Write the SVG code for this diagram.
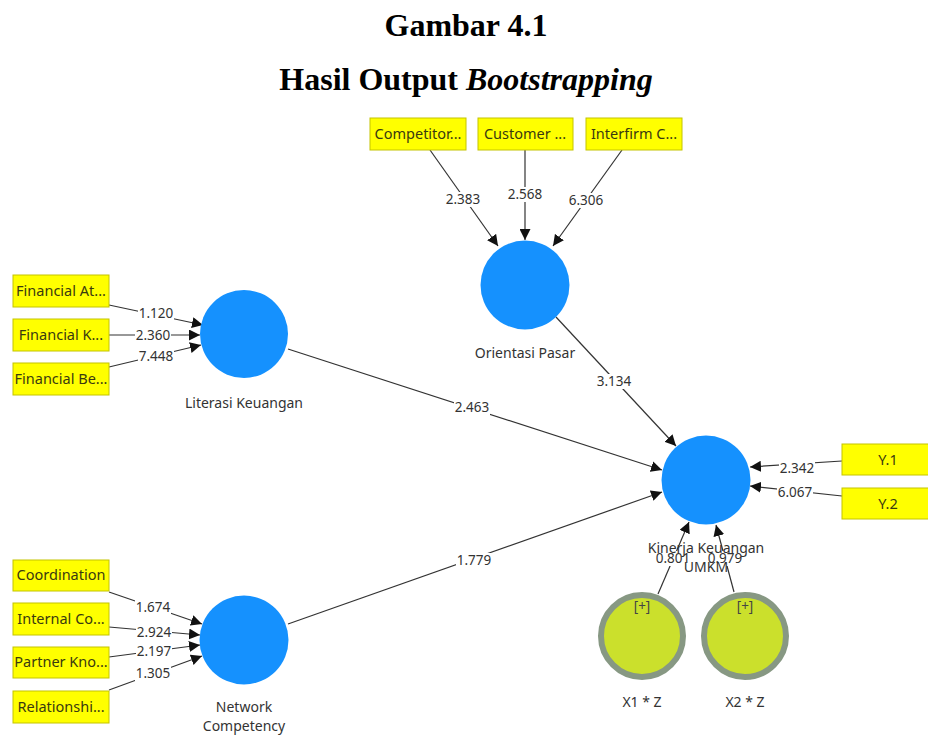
<svg xmlns="http://www.w3.org/2000/svg" width="928" height="735" viewBox="0 0 928 735">
<style>
.title{font-family:"Liberation Serif","Times New Roman",serif;font-size:32px;font-weight:bold;fill:#000;text-anchor:middle}
.box{fill:#ffff00;stroke:#c4c400;stroke-width:1}
.bt{font-family:"Noto Sans","Open Sans",sans-serif;font-size:14.5px;fill:#3a3a10;text-anchor:middle}
.lv{fill:#1591fe}
.nl{font-family:"Noto Sans","Open Sans",sans-serif;font-size:14px;fill:#333;text-anchor:middle}
.mod{fill:#cbe02c;stroke:#879883;stroke-width:6}
.plus{font-family:"Noto Sans","Open Sans",sans-serif;font-size:13.5px;fill:#444;text-anchor:middle}
.edge{stroke:#333;stroke-width:1.2;fill:none;marker-end:url(#ah)}
.bg{fill:#fff}
.el{font-family:"Noto Sans","Open Sans",sans-serif;font-size:13.5px;fill:#333;text-anchor:middle}
</style>
<defs>
<marker id="ah" viewBox="0 0 10 10" refX="10" refY="5" markerWidth="11" markerHeight="11" markerUnits="userSpaceOnUse" orient="auto">
<path d="M0,0 L10,5 L0,10 Z" fill="#111"/>
</marker>
</defs>
<rect width="928" height="735" fill="#fff"/>
<text class="title" x="466" y="36">Gambar 4.1</text>
<text class="title" x="466" y="90">Hasil Output <tspan font-style="italic">Bootstrapping</tspan></text>

<g id="connectors">
<line class="edge" x1="430" y1="150" x2="498" y2="246"/><rect class="bg" x="445" y="192" width="36" height="15"/><text class="el" x="463" y="204">2.383</text>
<line class="edge" x1="525" y1="150" x2="525" y2="240"/><rect class="bg" x="507" y="187" width="36" height="15"/><text class="el" x="525" y="199">2.568</text>
<line class="edge" x1="622" y1="150" x2="553" y2="246"/><rect class="bg" x="568" y="193" width="36" height="15"/><text class="el" x="586" y="205">6.306</text>
<line class="edge" x1="109" y1="305" x2="203" y2="325"/><rect class="bg" x="138" y="306" width="36" height="15"/><text class="el" x="156" y="318">1.120</text>
<line class="edge" x1="109" y1="335" x2="200" y2="335"/><rect class="bg" x="135" y="328" width="36" height="15"/><text class="el" x="153" y="340">2.360</text>
<line class="edge" x1="109" y1="367" x2="201" y2="345"/><rect class="bg" x="138" y="349" width="36" height="15"/><text class="el" x="156" y="361">7.448</text>
<line class="edge" x1="109" y1="592" x2="202" y2="624"/><rect class="bg" x="135" y="600" width="36" height="15"/><text class="el" x="153" y="612">1.674</text>
<line class="edge" x1="109" y1="627" x2="200" y2="635"/><rect class="bg" x="136" y="625" width="36" height="15"/><text class="el" x="154" y="637">2.924</text>
<line class="edge" x1="109" y1="657" x2="200" y2="645"/><rect class="bg" x="136" y="644" width="36" height="15"/><text class="el" x="154" y="656">2.197</text>
<line class="edge" x1="109" y1="690" x2="202" y2="656"/><rect class="bg" x="135" y="666" width="36" height="15"/><text class="el" x="153" y="678">1.305</text>
<line class="edge" x1="288" y1="349" x2="662" y2="470"/><rect class="bg" x="454" y="400" width="36" height="15"/><text class="el" x="472" y="412">2.463</text>
<line class="edge" x1="288" y1="624" x2="662" y2="492"/><rect class="bg" x="456" y="553" width="36" height="15"/><text class="el" x="474" y="565">1.779</text>
<line class="edge" x1="556" y1="317" x2="676" y2="446"/><rect class="bg" x="596" y="374" width="36" height="15"/><text class="el" x="614" y="386">3.134</text>
<line class="edge" x1="842" y1="461" x2="750" y2="467"/><rect class="bg" x="779" y="461" width="36" height="15"/><text class="el" x="797" y="473">2.342</text>
<line class="edge" x1="842" y1="496" x2="750" y2="486"/><rect class="bg" x="777" y="485" width="36" height="15"/><text class="el" x="795" y="497">6.067</text>
<line class="edge" x1="658" y1="594" x2="689" y2="522"/><rect class="bg" x="657" y="551" width="32" height="15"/><text class="el" x="673" y="563">0.801</text>
<line class="edge" x1="734" y1="592" x2="716" y2="525"/><rect class="bg" x="709" y="551" width="32" height="15"/><text class="el" x="725" y="563">0.979</text>
</g>

<g id="competitor"><rect class="box" x="370" y="118" width="96" height="32"/><text class="bt" x="418" y="139">Competitor...</text></g>
<g id="customer"><rect class="box" x="478" y="118" width="95" height="32"/><text class="bt" x="525" y="139">Customer ...</text></g>
<g id="interfirm"><rect class="box" x="586" y="118" width="96" height="32"/><text class="bt" x="634" y="139">Interfirm C...</text></g>

<g id="fin-at"><rect class="box" x="13" y="275" width="96" height="32"/><text class="bt" x="61" y="296">Financial At...</text></g>
<g id="fin-k"><rect class="box" x="13" y="319" width="96" height="32"/><text class="bt" x="61" y="340">Financial K...</text></g>
<g id="fin-be"><rect class="box" x="13" y="363" width="96" height="32"/><text class="bt" x="61" y="384">Financial Be...</text></g>

<g id="coordination"><rect class="box" x="13" y="560" width="96" height="31"/><text class="bt" x="61" y="580">Coordination</text></g>
<g id="internal"><rect class="box" x="13" y="603" width="96" height="32"/><text class="bt" x="61" y="624">Internal Co...</text></g>
<g id="partner"><rect class="box" x="13" y="647" width="96" height="31"/><text class="bt" x="61" y="667">Partner Kno...</text></g>
<g id="relationship"><rect class="box" x="13" y="691" width="96" height="32"/><text class="bt" x="61" y="712">Relationshi...</text></g>

<g id="y1"><rect class="box" x="842" y="444" width="96" height="31"/><text class="bt" x="888" y="465">Y.1</text></g>
<g id="y2"><rect class="box" x="842" y="488" width="96" height="31"/><text class="bt" x="888" y="509">Y.2</text></g>

<g id="orientasi"><circle class="lv" cx="525" cy="285" r="44.5"/><text class="nl" x="525" y="358">Orientasi Pasar</text></g>
<g id="literasi"><circle class="lv" cx="244" cy="334" r="44"/><text class="nl" x="244" y="408">Literasi Keuangan</text></g>
<g id="network"><circle class="lv" cx="244" cy="640" r="44.5"/><text class="nl" x="244" y="712">Network</text><text class="nl" x="244" y="731">Competency</text></g>
<g id="kinerja"><circle class="lv" cx="706" cy="480" r="44.5"/><text class="nl" x="706" y="553">Kinerja Keuangan</text><text class="nl" x="706" y="572">UMKM</text></g>
<g id="x1z"><circle class="mod" cx="642" cy="636" r="41"/><text class="plus" x="642" y="611">[+]</text><text class="nl" x="642" y="707">X1 * Z</text></g>
<g id="x2z"><circle class="mod" cx="745" cy="636" r="41"/><text class="plus" x="745" y="611">[+]</text><text class="nl" x="745" y="707">X2 * Z</text></g>
</svg>
